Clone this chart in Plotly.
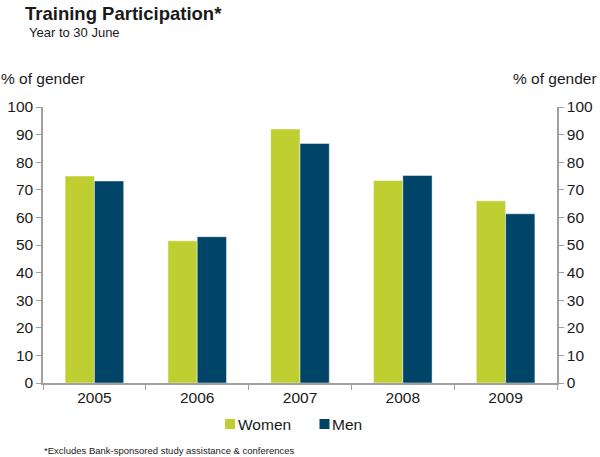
import plotly.graph_objects as go

years = ["2005", "2006", "2007", "2008", "2009"]
women = [75, 51.5, 92, 73.4, 66]
men = [73.2, 53, 86.8, 75.2, 61.3]
y_ticks = [0, 10, 20, 30, 40, 50, 60, 70, 80, 90, 100]
series_names = ["Women", "Men"]

WOMEN_C = "#BFCE30"
MEN_C = "#004468"
AXIS_C = "#A0A0A0"
TXT_C = "#1a1a1a"
FONT = "Liberation Sans, Arial, sans-serif"

W, H = 600, 457
ML, MR, MT, MB = 43, 43, 107, 74
plot_w = W - ML - MR
plot_h = H - MT - MB


def px(x):
    return (x - ML) / plot_w


def py(y):
    return (H - MB - y) / plot_h


fig = go.Figure()
fig.add_trace(go.Bar(x=years, y=women, name=series_names[0], showlegend=False,
                     marker=dict(color=WOMEN_C, line=dict(color="rgba(255,255,255,0.6)", width=0.8))))
fig.add_trace(go.Bar(x=years, y=men, name=series_names[1], showlegend=False,
                     marker=dict(color=MEN_C, line=dict(color="rgba(255,255,255,0.6)", width=0.8))))
fig.add_trace(go.Scatter(x=years, y=[None] * len(years), yaxis="y2", showlegend=False, hoverinfo="skip"))

fig.update_layout(
    width=W, height=H,
    margin=dict(l=ML, r=MR, t=MT, b=MB, autoexpand=False),
    paper_bgcolor="white", plot_bgcolor="white",
    font=dict(family=FONT, size=15, color=TXT_C),
    barmode="group", bargap=0.43, bargroupgap=0,
    showlegend=False,
    xaxis=dict(type="category", showline=True, linecolor=AXIS_C, linewidth=1.5,
               ticks="outside", tickson="boundaries", ticklen=5, tickcolor=AXIS_C, tickwidth=1,
               showgrid=False, tickfont=dict(size=15.5), range=[-0.5, 4.5]),
    yaxis=dict(range=[0, 100], tickvals=y_ticks, showline=True, linecolor=AXIS_C, linewidth=1.5,
               ticks="outside", ticklen=5, tickcolor=AXIS_C, showgrid=False, zeroline=False,
               tickfont=dict(size=15.5)),
    yaxis2=dict(range=[0, 100], tickvals=y_ticks, overlaying="y", side="right", showline=True,
                linecolor=AXIS_C, linewidth=1.5, ticks="outside", ticklen=5, tickcolor=AXIS_C,
                showgrid=False, zeroline=False, tickfont=dict(size=15.5)),
)

# Custom legend (square right next to label, as in the reference)
legend_items = [(series_names[0], WOMEN_C, 225), (series_names[1], MEN_C, 319.5)]
for name, col, x0 in legend_items:
    fig.add_shape(type="rect", xref="paper", yref="paper",
                  x0=px(x0), x1=px(x0 + 10), y0=py(429), y1=py(419),
                  fillcolor=col, line=dict(width=0))
    fig.add_annotation(text=name, x=px(x0 + 10.5), y=py(424), xref="paper", yref="paper",
                       xanchor="left", yanchor="middle", showarrow=False,
                       font=dict(size=15.5, color=TXT_C))

fig.add_annotation(text="<b>Training Participation*</b>", x=px(23), y=py(13), xref="paper", yref="paper",
                   xanchor="left", yanchor="middle", showarrow=False, font=dict(size=18.5, color=TXT_C))
fig.add_annotation(text="Year to 30 June", x=px(27), y=py(33), xref="paper", yref="paper",
                   xanchor="left", yanchor="middle", showarrow=False, font=dict(size=13, color=TXT_C))
fig.add_annotation(text="% of gender", x=px(-1), y=py(78), xref="paper", yref="paper",
                   xanchor="left", yanchor="middle", showarrow=False, font=dict(size=15.5, color=TXT_C))
fig.add_annotation(text="% of gender", x=px(599), y=py(78), xref="paper", yref="paper",
                   xanchor="right", yanchor="middle", showarrow=False, font=dict(size=15.5, color=TXT_C))
fig.add_annotation(text="*Excludes Bank-sponsored study assistance & conferences", x=px(42), y=py(450),
                   xref="paper", yref="paper", xanchor="left", yanchor="middle", showarrow=False,
                   font=dict(size=9.5, color=TXT_C))

fig.write_html("out.html", config={"displayModeBar": False},
               post_script="document.body.style.margin='0';document.body.style.overflow='hidden';")
